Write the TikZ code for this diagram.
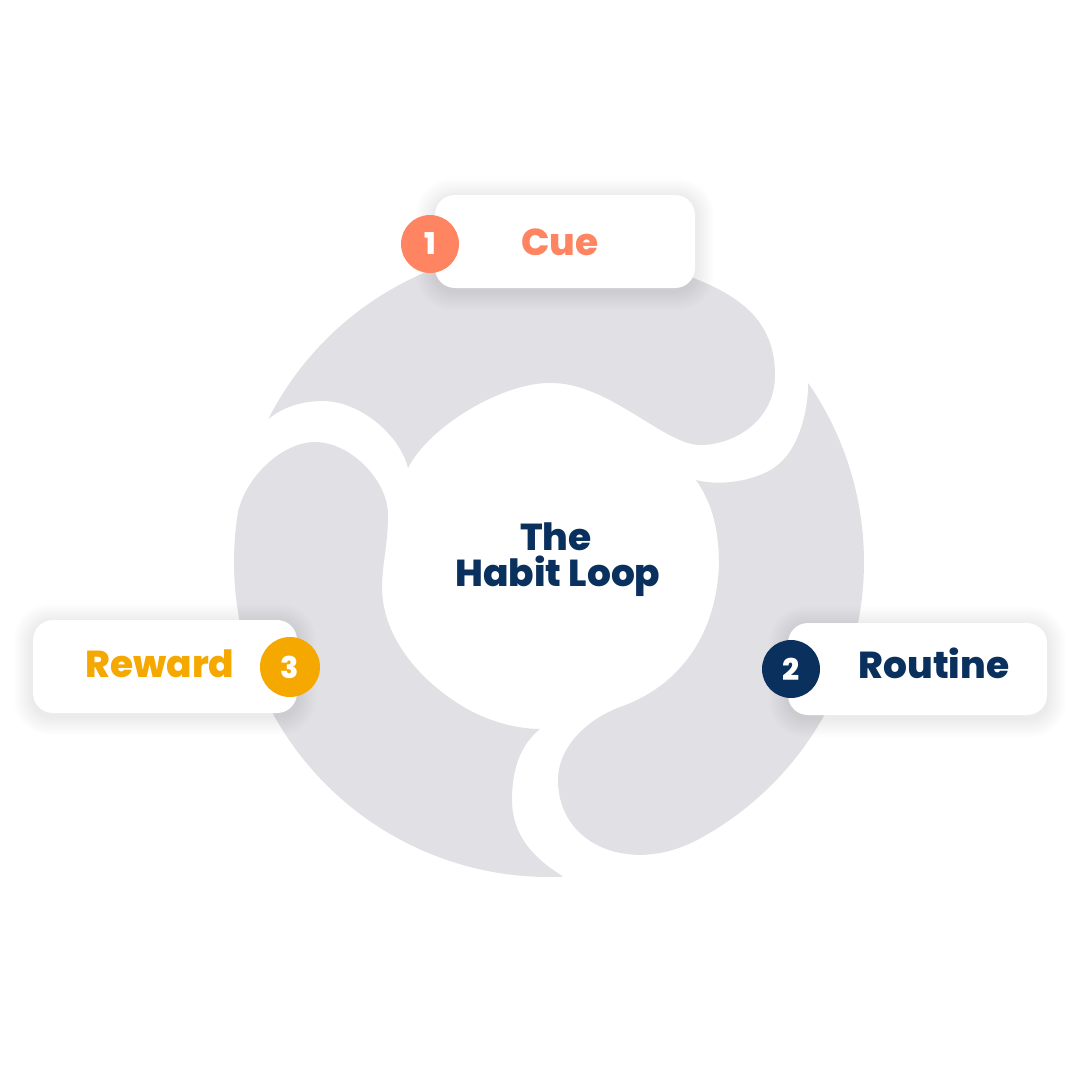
\documentclass[tikz,border=0pt]{standalone}
\usepackage{fontspec}
\setmainfont{Poppins}[BoldFont={Poppins ExtraBold}]
\usetikzlibrary{calc}
\definecolor{blob}{HTML}{E1E1E5}
\definecolor{cuecol}{HTML}{FF8562}
\definecolor{navy}{HTML}{0A305E}
\definecolor{amber}{HTML}{F5A800}
\newcommand{\softshadow}[4]{% cx cy w h
  \foreach \k in {1,...,10}{
    \fill[black, opacity=0.0085, rounded corners=20pt+\k*1.6pt]
      ($(#1,#2+3)+(-#3/2-\k*1.9,-#4/2-\k*1.9)$) rectangle ($(#1,#2+3)+(#3/2+\k*1.9,#4/2+\k*1.9)$);
  }}
\begin{document}
\begin{tikzpicture}[x=1pt,y=-1pt,
  blobfill/.style={fill=blob},
  card/.style={rectangle, fill=white, rounded corners=20pt, inner sep=0pt},
  badge/.style={circle, minimum size=58pt, inner sep=0pt, text=white, font=\fontsize{30}{30}\selectfont\bfseries},
  label/.style={anchor=base, inner sep=0pt, font=\fontsize{37.5}{37.5}\selectfont\bfseries},
]
\useasboundingbox (0,0) rectangle (1080,1080);
\fill[white] (0,0) rectangle (1080,1080);
\coordinate (O) at (549,562);

% top blob (Cue)
\fill[blobfill] ($(O)+(207:315)$) arc[start angle=207, end angle=285, radius=315]
  .. controls (717,282) and (775,305) .. (775,375)
  .. controls (775,420) and (735,445) .. (700,445)
  .. controls (665,445) and (610,384) .. (553,383)
  .. controls (505,381) and (430,425) .. (408,468)
  .. controls (400,435) and (360,401) .. (323,401)
  .. controls (300,401) and (282,408) .. ($(O)+(207:315)$) -- cycle;

% right blob (Routine)
\fill[blobfill] ($(O)+(-34.6:315)$) arc[start angle=-34.6, end angle=62, radius=315]
  .. controls (630,875) and (558,845) .. (558,780)
  .. controls (558,745) and (590,718) .. (620,707)
  .. controls (675,688) and (716,640) .. (719,565)
  .. controls (719,525) and (710,500) .. (696,480)
  .. controls (722,487) and (762,480) .. (780,463)
  .. controls (800,445) and (808,410) .. ($(O)+(-34.6:315)$) -- cycle;

% left blob (Reward)
\fill[blobfill] ($(O)+(87.4:315)$) arc[start angle=87.4, end angle=188, radius=315]
  .. controls (241,482) and (280,442) .. (315,442)
  .. controls (350,442) and (388,480) .. (388,515)
  .. controls (388,545) and (382,565) .. (382,587)
  .. controls (382,630) and (410,670) .. (450,698)
  .. controls (480,720) and (515,729) .. (540,729)
  .. controls (520,745) and (512,770) .. (512,800)
  .. controls (512,840) and (540,862) .. ($(O)+(87.4:315)$) -- cycle;

% card shadows
\softshadow{565}{241.5}{260}{93}
\softshadow{165}{666.5}{264}{93}
\softshadow{917.5}{669}{259}{92}

% cards
\node[card, minimum width=260pt, minimum height=93pt] (cuebox) at (565,241.5) {};
\node[card, minimum width=264pt, minimum height=93pt] (rewardbox) at (165,666.5) {};
\node[card, minimum width=259pt, minimum height=92pt] (routinebox) at (917.5,669) {};

% badges
\node[badge, fill=cuecol] (b1) at (430,244) {1};
\node[badge, fill=navy] (b2) at (791,669) {2};
\node[badge, fill=amber, minimum size=60pt] (b3) at (290,667) {3};

% labels
\node[label, text=cuecol] (cue) at (560,255) {Cue};
\node[label, text=amber] (reward) at (160,677) {Reward};
\node[label, text=navy] (routine) at (934,678) {Routine};
\node[label, text=navy] (the) at (556,550) {The};
\node[label, text=navy] (habit) at (558,586) {Habit Loop};
\end{tikzpicture}
\end{document}
